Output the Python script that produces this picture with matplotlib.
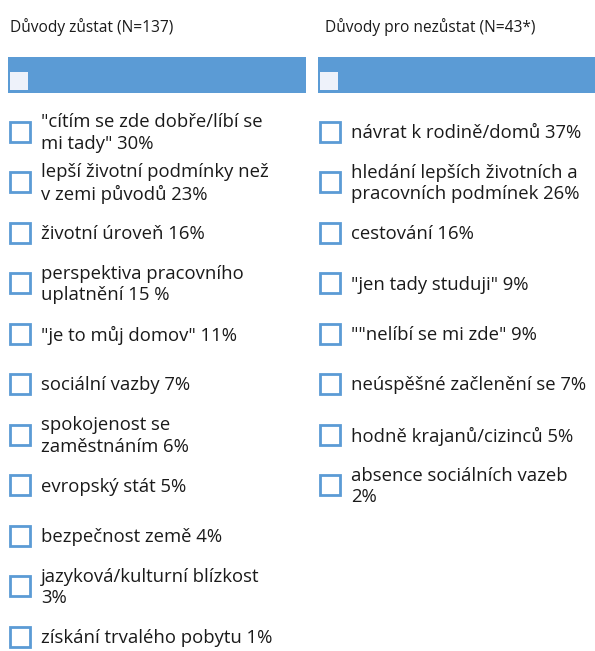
import matplotlib.pyplot as plt
from matplotlib.patches import Rectangle

# Data
left_title = "Důvody zůstat (N=137)"
left_labels = ['"cítím se zde dobře/líbí se\nmi tady"', 'lepší životní podmínky než\nv zemi původů',
               'životní úroveň', 'perspektiva pracovního\nuplatnění', '"je to můj domov"',
               'sociální vazby', 'spokojenost se\nzaměstnáním', 'evropský stát',
               'bezpečnost země', 'jazyková/kulturní blízkost\n', 'získání trvalého pobytu']
left_values = [30, 23, 16, 15, 11, 7, 6, 5, 4, 3, 1]
left_units = ["%", "%", "%", " %", "%", "%", "%", "%", "%", "%", "%"]

right_title = "Důvody pro nezůstat (N=43*)"
right_labels = ['návrat k rodině/domů', 'hledání lepších životních a\npracovních podmínek',
                'cestování', '"jen tady studuji"', '""nelíbí se mi zde"',
                'neúspěšné začlenění se', 'hodně krajanů/cizinců', 'absence sociálních vazeb\n']
right_values = [37, 26, 16, 9, 9, 7, 5, 2]

BLUE = "#5b9bd5"
TXT = "#1a1a1a"
plt.rcParams['font.family'] = ['Open Sans', 'DejaVu Sans']

fig = plt.figure(figsize=(5.95, 6.51), dpi=100)
ax = fig.add_axes([0, 0, 1, 1])
ax.set_xlim(0, 595)
ax.set_ylim(651, 0)
ax.axis("off")


def column(x0, x1, title, labels, values, units, tx):
    ax.text(tx, 27, title, fontsize=11.2, color=TXT, va="center", ha="left")
    ax.add_patch(Rectangle((x0, 57), x1 - x0, 36, facecolor=BLUE, edgecolor="none"))
    ax.add_patch(Rectangle((x0 + 2, 72), 18, 18, facecolor="#eef2fa", edgecolor="none"))
    for i, (lab, v, u) in enumerate(zip(labels, values, units)):
        yc = 132 + 50.5 * i
        ax.add_patch(Rectangle((x0 + 1.5, yc - 10.5), 20, 20, facecolor="white",
                               edgecolor=BLUE, linewidth=2))
        sep = "" if lab.endswith("\n") else " "
        ax.text(x0 + 33, yc + 1, f"{lab}{sep}{v}{u}", fontsize=13.3, color=TXT,
                va="center", ha="left", linespacing=1.25)


column(8, 306, left_title, left_labels, left_values, left_units, 10)
column(318, 600, right_title, right_labels, right_values, ["%"] * len(right_values), 325)

fig.savefig("out.png", dpi=100)
